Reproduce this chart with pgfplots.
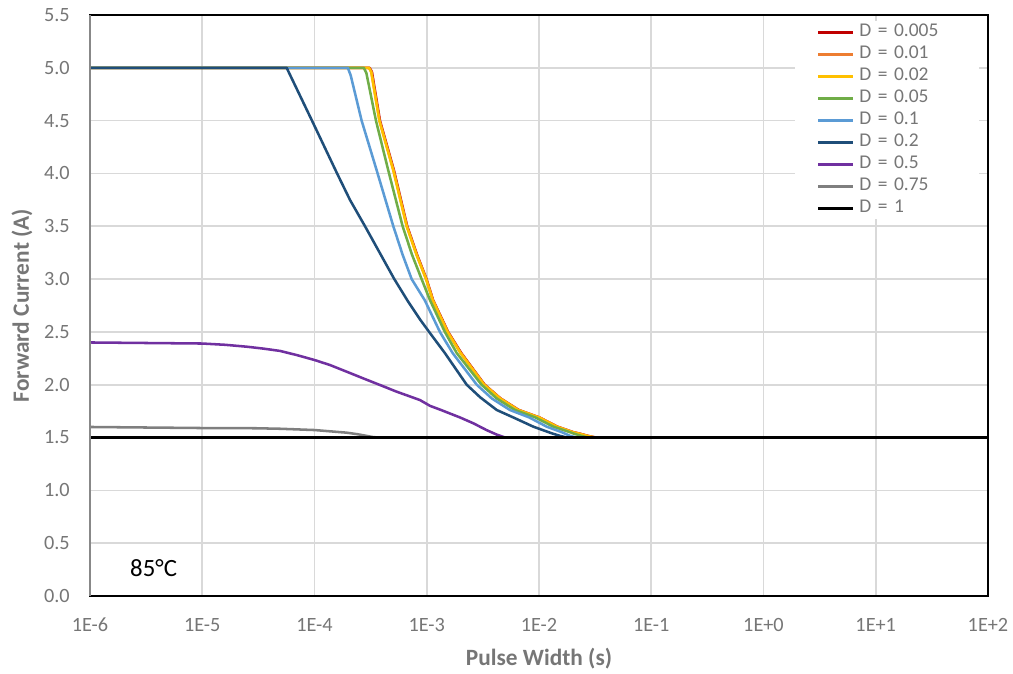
\documentclass[border=0pt]{standalone}
\usepackage{fontspec}
\setmainfont{Carlito}
\usepackage{pgfplots}
\pgfplotsset{compat=1.18}
\definecolor{cRed}{HTML}{C00000}
\definecolor{cOrange}{HTML}{ED7D31}
\definecolor{cYellow}{HTML}{FFC000}
\definecolor{cGreen}{HTML}{70AD47}
\definecolor{cLBlue}{HTML}{5B9BD5}
\definecolor{cDBlue}{HTML}{1F4E79}
\definecolor{cPurple}{HTML}{7030A0}
\definecolor{cGray}{HTML}{7F7F7F}
\definecolor{tickc}{HTML}{767676}
\definecolor{gridc}{HTML}{D9D9D9}
\definecolor{gridm}{HTML}{E6E6E6}
\definecolor{axgray}{HTML}{888888}
\begin{document}
\begin{tikzpicture}
\useasboundingbox (-67.5pt,-58.5pt) rectangle (692.25pt,447pt);
\begin{axis}[
  at={(0,0)}, anchor=south west,
  scale only axis, width=673.5pt, height=435.75pt,
  xmode=log, log basis x=10,
  xmin=1e-6, xmax=1e2, ymin=0, ymax=5.5,
  xtick={1e-6,1e-5,1e-4,1e-3,1e-2,1e-1,1e0,1e1,1e2},
  xticklabels={1E-6,1E-5,1E-4,1E-3,1E-2,1E-1,1E+0,1E+1,1E+2},
  ytick={0,0.5,1,1.5,2,2.5,3,3.5,4,4.5,5,5.5},
  major tick length=0pt, minor tick length=0pt,
  xmajorgrids, xminorgrids, ymajorgrids,
  major grid style={draw=gridc, line width=1.2pt},
  minor grid style={draw=gridm, line width=0.8pt},
  axis line style={black, line width=1.1pt},
  /pgf/number format/assume math mode=true,
  tick label style={text=tickc, font=\fontsize{15.2}{18}\selectfont},
  yticklabel style={/pgf/number format/fixed, /pgf/number format/fixed zerofill, /pgf/number format/precision=1},
  yticklabel style={anchor=east, inner sep=0pt, xshift=-15pt},
  xticklabel style={anchor=base, inner sep=0pt, yshift=-27pt},
  xlabel={Pulse Width (s)},
  ylabel={Forward Current (A)},
  label style={text=tickc, font=\bfseries\fontsize{17.5}{21}\selectfont},
  xlabel style={at={(axis description cs:0.5,-0.1084)}, anchor=center},
  ylabel style={at={(axis description cs:-0.0757,0.5)}, anchor=center},
  legend style={at={(rel axis cs:0.785,0.9897)}, anchor=north west,
    draw=none, fill=white, inner xsep=16.5pt, inner ysep=0pt,
    row sep=0pt, column sep=0pt,
    font=\fontsize{14.6}{17}\selectfont, text=tickc,
    nodes={inner sep=0pt, text height=11.5pt, text depth=5pt},
    /tikz/every even column/.append style={text width=73.5pt}},
  legend cell align=left,
  legend image code/.code={\draw[#1, line width=1.9pt] (0pt,0pt) -- (26pt,0pt); \path (29.75pt,0pt);},
  every axis plot/.append style={line width=1.9pt, line join=round},
]
\addplot[cRed] coordinates {(1e-6,5)(3.1e-4,5)(3.25e-4,4.96)(3.83e-4,4.5)(5.1e-4,4.03)(6.7e-4,3.5)(8.2e-4,3.23)(9.95e-4,3.0)(1.14e-3,2.8)(1.55e-3,2.5)(2.03e-3,2.30)(3.28e-3,2.0)(4.55e-3,1.87)(6.6e-3,1.761)(1.01e-2,1.69)(1.46e-2,1.603)(2.03e-2,1.55)(2.25e-2,1.54)(2.75e-2,1.515)(3.2e-2,1.5)(1e2,1.5)};
\addlegendentry{D = 0.005}
\addplot[cOrange] coordinates {(1e-6,5)(3.08e-4,5)(3.22e-4,4.96)(3.8e-4,4.5)(5.06e-4,4.03)(6.66e-4,3.5)(8.15e-4,3.23)(9.9e-4,3.0)(1.135e-3,2.8)(1.54e-3,2.5)(2.01e-3,2.30)(3.26e-3,2.0)(4.52e-3,1.87)(6.55e-3,1.761)(1.005e-2,1.69)(1.45e-2,1.603)(2.01e-2,1.55)(2.22e-2,1.54)(2.72e-2,1.515)(3.18e-2,1.5)(1e2,1.5)};
\addlegendentry{D = 0.01}
\addplot[cYellow] coordinates {(1e-6,5)(3.05e-4,5)(3.2e-4,4.96)(3.78e-4,4.5)(5.03e-4,4.03)(6.62e-4,3.5)(8.1e-4,3.23)(9.85e-4,3.0)(1.13e-3,2.8)(1.53e-3,2.5)(2e-3,2.30)(3.24e-3,2.0)(4.5e-3,1.87)(6.5e-3,1.761)(1e-2,1.69)(1.44e-2,1.603)(2e-2,1.55)(2.2e-2,1.54)(2.7e-2,1.515)(3.16e-2,1.5)(1e2,1.5)};
\addlegendentry{D = 0.02}
\addplot[cGreen] coordinates {(1e-6,5)(2.75e-4,5)(2.9e-4,4.95)(3.53e-4,4.5)(4.54e-4,4.03)(6.1e-4,3.5)(7.4e-4,3.23)(9.0e-4,3.0)(1.07e-3,2.8)(1.45e-3,2.5)(1.85e-3,2.30)(3.08e-3,2.0)(4.2e-3,1.87)(6.1e-3,1.761)(9.3e-3,1.69)(1.34e-2,1.603)(1.9e-2,1.55)(2.0e-2,1.54)(2.4e-2,1.515)(2.75e-2,1.5)(1e2,1.5)};
\addlegendentry{D = 0.05}
\addplot[cLBlue] coordinates {(1e-6,5)(1.98e-4,5)(2.1e-4,4.93)(2.63e-4,4.5)(3.58e-4,4.03)(5.04e-4,3.5)(6.1e-4,3.23)(7.34e-4,3.0)(9.6e-4,2.8)(1.31e-3,2.5)(1.7e-3,2.30)(2.79e-3,2.0)(3.8e-3,1.87)(5.5e-3,1.761)(8.2e-3,1.69)(1.17e-2,1.603)(1.6e-2,1.55)(1.9e-2,1.515)(2.17e-2,1.5)(1e2,1.5)};
\addlegendentry{D = 0.1}
\addplot[cDBlue] coordinates {(1e-6,5)(5.65e-5,5)(9.5e-5,4.5)(1.59e-4,4.0)(2.07e-4,3.75)(2.82e-4,3.5)(3.9e-4,3.23)(5.14e-4,3.0)(6.8e-4,2.79)(8.7e-4,2.619)(1.05e-3,2.5)(1.45e-3,2.30)(2.27e-3,2.0)(3.0e-3,1.88)(4.2e-3,1.761)(6.2e-3,1.68)(8.9e-3,1.603)(1.3e-2,1.54)(1.55e-2,1.515)(1.77e-2,1.5)(1e2,1.5)};
\addlegendentry{D = 0.2}
\addplot[cPurple] coordinates {(1e-6,2.40)(6.3e-6,2.392)(1e-5,2.39)(1.6e-5,2.378)(2.49e-5,2.36)(3.5e-5,2.342)(4.93e-5,2.32)(7e-5,2.28)(1e-4,2.234)(1.37e-4,2.187)(1.94e-4,2.123)(2.72e-4,2.06)(3.84e-4,1.997)(5.4e-4,1.934)(8.7e-4,1.855)(1.07e-3,1.80)(1.31e-3,1.765)(1.98e-3,1.69)(2.6e-3,1.635)(3.42e-3,1.57)(4.2e-3,1.528)(5.0e-3,1.5)(1e2,1.5)};
\addlegendentry{D = 0.5}
\addplot[cGray] coordinates {(1e-6,1.60)(1e-5,1.59)(3e-5,1.588)(5e-5,1.583)(1e-4,1.571)(1.94e-4,1.546)(2.4e-4,1.532)(2.9e-4,1.516)(3.3e-4,1.505)(3.7e-4,1.5)(1e2,1.5)};
\addlegendentry{D = 0.75}
\addplot[black] coordinates {(1e-6,1.5)(1e2,1.5)};
\addlegendentry{D = 1}
\node[anchor=base west, inner sep=0pt, font=\fontsize{18.6}{22}\selectfont, text=black] at (rel axis cs:0.0445,0.0333) {85°C};
\end{axis}
\draw[axgray, line width=1.8pt] (0pt,0pt) -- (0pt,435.75pt);
\end{tikzpicture}
\end{document}
